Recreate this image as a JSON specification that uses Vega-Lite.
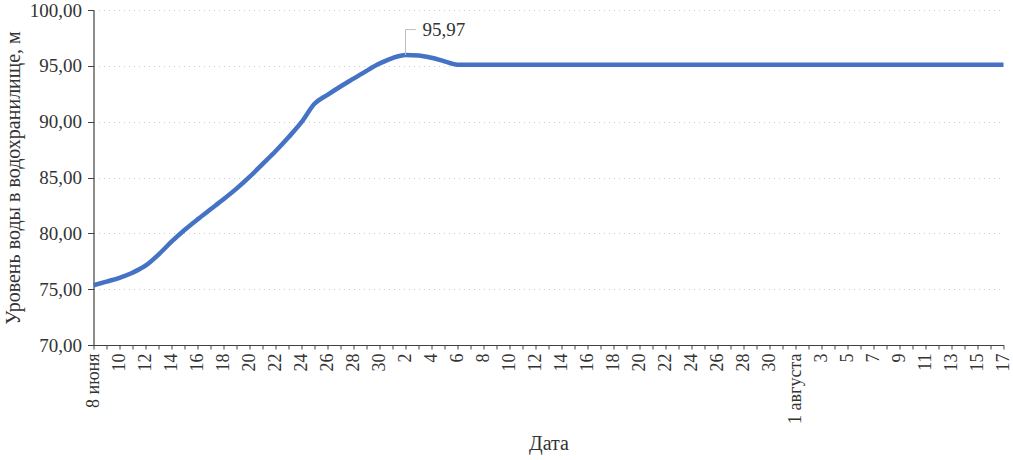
{
  "$schema": "https://vega.github.io/schema/vega-lite/v6.json",
  "width": 910,
  "height": 335,
  "autosize": "none",
  "padding": {"left": 93.5, "top": 10, "right": 9.5, "bottom": 115},
  "background": "white",
  "config": {
    "view": {"stroke": null},
    "font": "Liberation Serif",
    "locale": {
      "number": {"decimal": ",", "thousands": " ", "grouping": [3], "currency": ["", " ₽"]}
    }
  },
  "data": {
    "values": [
      {"date": "2020-06-08", "level": 75.35},
      {"date": "2020-06-09", "level": 75.68},
      {"date": "2020-06-10", "level": 76.02},
      {"date": "2020-06-11", "level": 76.47},
      {"date": "2020-06-12", "level": 77.1},
      {"date": "2020-06-13", "level": 78.1},
      {"date": "2020-06-14", "level": 79.25},
      {"date": "2020-06-15", "level": 80.3},
      {"date": "2020-06-16", "level": 81.25},
      {"date": "2020-06-17", "level": 82.15},
      {"date": "2020-06-18", "level": 83.05},
      {"date": "2020-06-19", "level": 84.0},
      {"date": "2020-06-20", "level": 85.05},
      {"date": "2020-06-21", "level": 86.2},
      {"date": "2020-06-22", "level": 87.35},
      {"date": "2020-06-23", "level": 88.6},
      {"date": "2020-06-24", "level": 89.95},
      {"date": "2020-06-25", "level": 91.6},
      {"date": "2020-06-26", "level": 92.4},
      {"date": "2020-06-27", "level": 93.15},
      {"date": "2020-06-28", "level": 93.85},
      {"date": "2020-06-29", "level": 94.55},
      {"date": "2020-06-30", "level": 95.2},
      {"date": "2020-07-01", "level": 95.7},
      {"date": "2020-07-02", "level": 95.97},
      {"date": "2020-07-03", "level": 95.93},
      {"date": "2020-07-04", "level": 95.72},
      {"date": "2020-07-05", "level": 95.4},
      {"date": "2020-07-06", "level": 95.1},
      {"date": "2020-07-07", "level": 95.09},
      {"date": "2020-07-08", "level": 95.09},
      {"date": "2020-07-09", "level": 95.09},
      {"date": "2020-07-10", "level": 95.09},
      {"date": "2020-07-11", "level": 95.09},
      {"date": "2020-07-12", "level": 95.09},
      {"date": "2020-07-13", "level": 95.09},
      {"date": "2020-07-14", "level": 95.09},
      {"date": "2020-07-15", "level": 95.09},
      {"date": "2020-07-16", "level": 95.09},
      {"date": "2020-07-17", "level": 95.09},
      {"date": "2020-07-18", "level": 95.09},
      {"date": "2020-07-19", "level": 95.09},
      {"date": "2020-07-20", "level": 95.09},
      {"date": "2020-07-21", "level": 95.09},
      {"date": "2020-07-22", "level": 95.09},
      {"date": "2020-07-23", "level": 95.09},
      {"date": "2020-07-24", "level": 95.09},
      {"date": "2020-07-25", "level": 95.09},
      {"date": "2020-07-26", "level": 95.09},
      {"date": "2020-07-27", "level": 95.09},
      {"date": "2020-07-28", "level": 95.09},
      {"date": "2020-07-29", "level": 95.09},
      {"date": "2020-07-30", "level": 95.09},
      {"date": "2020-07-31", "level": 95.09},
      {"date": "2020-08-01", "level": 95.09},
      {"date": "2020-08-02", "level": 95.09},
      {"date": "2020-08-03", "level": 95.09},
      {"date": "2020-08-04", "level": 95.09},
      {"date": "2020-08-05", "level": 95.09},
      {"date": "2020-08-06", "level": 95.09},
      {"date": "2020-08-07", "level": 95.09},
      {"date": "2020-08-08", "level": 95.09},
      {"date": "2020-08-09", "level": 95.09},
      {"date": "2020-08-10", "level": 95.09},
      {"date": "2020-08-11", "level": 95.09},
      {"date": "2020-08-12", "level": 95.09},
      {"date": "2020-08-13", "level": 95.09},
      {"date": "2020-08-14", "level": 95.09},
      {"date": "2020-08-15", "level": 95.09},
      {"date": "2020-08-16", "level": 95.09},
      {"date": "2020-08-17", "level": 95.09}
    ]
  },
  "layer": [
    {
      "mark": {"type": "line", "color": "#4472C4", "strokeWidth": 4.5, "interpolate": "monotone"},
      "encoding": {
        "x": {
          "field": "date",
          "type": "temporal",
          "scale": {"type": "utc", "nice": false},
          "axis": {
            "title": "Дата",
            "titleFontSize": 20,
            "titleFontWeight": "normal",
            "titleColor": "#333333",
            "titlePadding": 10,
            "labelAngle": 270,
            "labelFontSize": 18,
            "labelColor": "#333333",
            "labelExpr": "round((datum.value - utc(2020,5,8)) / 86400000) % 2 == 0 ? ((utcdate(datum.value) == 8 && utcmonth(datum.value) == 5) ? '8 июня' : ((utcdate(datum.value) == 1 && utcmonth(datum.value) == 7) ? '1 августа' : '' + utcdate(datum.value))) : ''",
            "tickCount": {"interval": "day", "step": 1},
            "tickSize": 4,
            "tickColor": "#404040",
            "labelPadding": 4,
            "labelOverlap": false,
            "labelBound": false,
            "labelFlush": false,
            "grid": false,
            "domainColor": "#404040",
            "domainWidth": 1.2
          }
        },
        "y": {
          "field": "level",
          "type": "quantitative",
          "scale": {"domain": [70, 100], "nice": false, "zero": false},
          "axis": {
            "title": "Уровень воды в водохранилище, м",
            "titleFontSize": 20,
            "titleFontWeight": "normal",
            "titleColor": "#333333",
            "titlePadding": 6,
            "values": [70, 75, 80, 85, 90, 95, 100],
            "format": ".2f",
            "labelFontSize": 19,
            "labelColor": "#333333",
            "tickSize": 6,
            "tickColor": "#404040",
            "labelPadding": 6,
            "domainColor": "#404040",
            "domainWidth": 1.2,
            "grid": true,
            "gridColor": "#cfcfcf",
            "gridDash": [1, 4]
          }
        }
      }
    },
    {
      "transform": [{"filter": "datum.level === 95.97"}],
      "mark": {"type": "rule", "color": "#bfbfbf", "strokeWidth": 1},
      "encoding": {
        "x": {"field": "date", "type": "temporal"},
        "y": {"field": "level", "type": "quantitative"},
        "y2": {"datum": 98.25}
      }
    },
    {
      "transform": [{"filter": "datum.level === 95.97"}],
      "mark": {"type": "rule", "color": "#bfbfbf", "strokeWidth": 1},
      "encoding": {
        "x": {"field": "date", "type": "temporal"},
        "x2": {"datum": {"year": 2020, "month": 7, "date": 2, "hours": 19, "utc": true}},
        "y": {"datum": 98.25}
      }
    },
    {
      "transform": [{"filter": "datum.level === 95.97"}],
      "mark": {"type": "text", "align": "left", "baseline": "middle", "dx": 17, "fontSize": 19, "color": "#333333"},
      "encoding": {
        "x": {"field": "date", "type": "temporal"},
        "y": {"datum": 98.25},
        "text": {"field": "level", "type": "quantitative", "format": ".2f"}
      }
    }
  ]
}
